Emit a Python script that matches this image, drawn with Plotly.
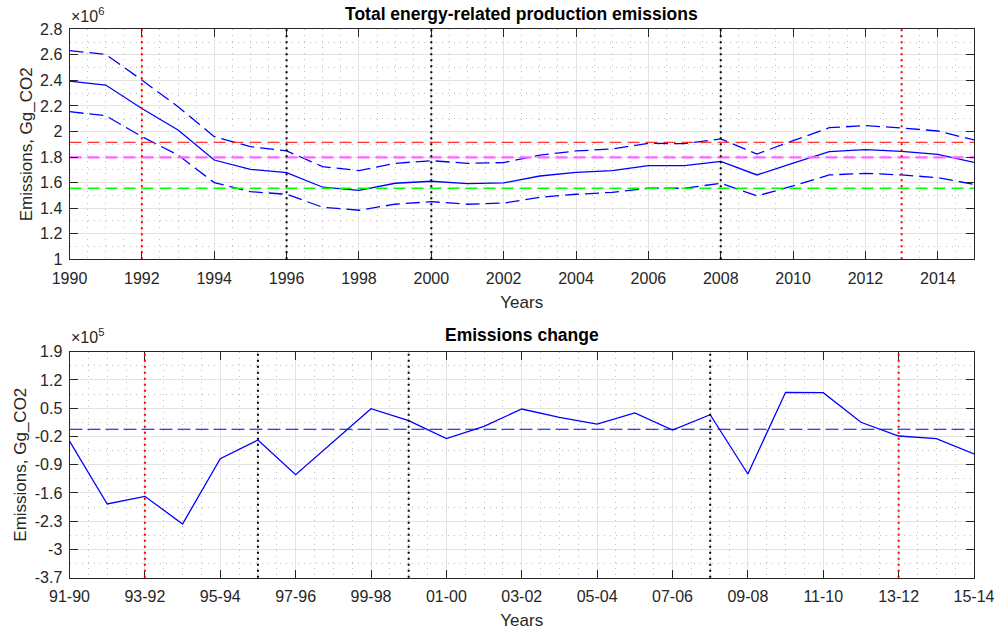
import plotly.graph_objects as go

# ---- data -------------------------------------------------------------
years = list(range(1990, 2016))

emissions = [2395000, 2364000, 2180000, 2012000, 1777000, 1704000, 1678000,
             1564000, 1540000, 1595000, 1611000, 1592000, 1598000, 1652000,
             1681000, 1694000, 1733000, 1733000, 1767000, 1660000, 1752000,
             1842000, 1858000, 1845000, 1822000, 1759000]
emissions_upper = [2633000, 2604000, 2403000, 2194000, 1960000, 1882000, 1848000,
                   1725000, 1694000, 1751000, 1772000, 1751000, 1757000, 1816000,
                   1848000, 1863000, 1908000, 1905000, 1942000, 1824000, 1928000,
                   2030000, 2046000, 2028000, 2004000, 1934000]
emissions_lower = [2155000, 2124000, 1960000, 1816000, 1600000, 1529000, 1509000,
                   1407000, 1384000, 1431000, 1451000, 1431000, 1440000, 1485000,
                   1509000, 1524000, 1556000, 1556000, 1595000, 1496000, 1574000,
                   1660000, 1673000, 1660000, 1639000, 1587000]

ref_red = 1916000
ref_magenta = 1798000
ref_green = 1556000

red_years = [1992, 2013]
black_years = [1996, 2000, 2008]

change_labels = ["91-90", "92-91", "93-92", "94-93", "95-94", "96-95", "97-96",
                 "98-97", "99-98", "00-99", "01-00", "02-01", "03-02", "04-03",
                 "05-04", "06-05", "07-06", "08-07", "09-08", "10-09", "11-10",
                 "12-11", "13-12", "14-13", "15-14"]
change = [-31300, -187400, -168400, -237000, -75100, -28800, -114700, -33000,
          48800, 19100, -25500, 5200, 48000, 27400, 10800, 38100, -4000,
          33900, -113000, 89400, 88400, 15100, -18900, -25500, -63500]
change_mean = -2300

change_red = ["93-92", "13-12"]
change_black = ["96-95", "00-99", "08-07"]

top_yticks = [1.0, 1.2, 1.4, 1.6, 1.8, 2.0, 2.2, 2.4, 2.6, 2.8]
bot_yticks = [-3.7, -3.0, -2.3, -1.6, -0.9, -0.2, 0.5, 1.2, 1.9]

# ---- styling ----------------------------------------------------------
FONT = "Liberation Sans, Arial, Helvetica, sans-serif"
TXT = "#262626"
BLUE = "#0000ff"
BAND_DASH = "14px,6px"
REF_DASH = "12px,6px"
MEAN_DASH = "13px,5px"
DOTS = "2px,4px"

fig = go.Figure()

# top panel: estimate with upper and lower band
fig.add_trace(go.Scatter(x=years, y=emissions_upper, mode="lines",
                         line=dict(color=BLUE, width=1.3, dash=BAND_DASH),
                         xaxis="x", yaxis="y", showlegend=False))
fig.add_trace(go.Scatter(x=years, y=emissions, mode="lines",
                         line=dict(color=BLUE, width=1.3),
                         xaxis="x", yaxis="y", showlegend=False))
fig.add_trace(go.Scatter(x=years, y=emissions_lower, mode="lines",
                         line=dict(color=BLUE, width=1.3, dash=BAND_DASH),
                         xaxis="x", yaxis="y", showlegend=False))

for val, col, w in [(ref_red, "#ff0000", 1.2), (ref_magenta, "#ff66ff", 2.4),
                    (ref_green, "#00ff00", 1.4)]:
    fig.add_trace(go.Scatter(x=[years[0], years[-1]], y=[val, val], mode="lines",
                             line=dict(color=col, width=w, dash=REF_DASH),
                             xaxis="x", yaxis="y", showlegend=False))

# bottom panel: year-on-year change and its mean
idx = list(range(len(change_labels)))
fig.add_trace(go.Scatter(x=[idx[0], idx[-1]], y=[change_mean, change_mean], mode="lines",
                         line=dict(color=BLUE, width=1.1, dash=MEAN_DASH),
                         xaxis="x2", yaxis="y2", showlegend=False))
fig.add_trace(go.Scatter(x=idx, y=change, mode="lines",
                         line=dict(color=BLUE, width=1.3),
                         xaxis="x2", yaxis="y2", showlegend=False))

# vertical dotted markers
shapes = []
for yr in red_years:
    shapes.append(dict(type="line", xref="x", yref="y domain", x0=yr, x1=yr, y0=0, y1=1,
                       line=dict(color="#ff0000", width=2, dash=DOTS), layer="above"))
for yr in black_years:
    shapes.append(dict(type="line", xref="x", yref="y domain", x0=yr, x1=yr, y0=0, y1=1,
                       line=dict(color="#000000", width=2, dash=DOTS), layer="above"))
for lab in change_red:
    i = change_labels.index(lab)
    shapes.append(dict(type="line", xref="x2", yref="y2 domain", x0=i, x1=i, y0=0, y1=1,
                       line=dict(color="#ff0000", width=2, dash=DOTS), layer="above"))
for lab in change_black:
    i = change_labels.index(lab)
    shapes.append(dict(type="line", xref="x2", yref="y2 domain", x0=i, x1=i, y0=0, y1=1,
                       line=dict(color="#000000", width=2, dash=DOTS), layer="above"))

common_axis = dict(
    showline=True, linecolor=TXT, linewidth=1, mirror="allticks",
    ticks="inside", ticklen=8, tickcolor=TXT, tickwidth=1,
    showgrid=True, gridcolor="#e3e3e3", gridwidth=1,
    zeroline=False, automargin=False, ticklabeloverflow="allow",
    tickfont=dict(family=FONT, size=16, color=TXT),
)
MINOR = dict(showgrid=True, gridcolor="#bdbdbd", griddash="1px,5px", gridwidth=1, ticks="")
XTITLE = dict(text="Years", font=dict(family=FONT, size=17, color=TXT), standoff=10)
YTITLE = dict(text="Emissions, Gg_CO2", font=dict(family=FONT, size=17, color=TXT), standoff=3)

XD = [69.5 / 994, 974 / 994]


def fmt(v):
    return ("%.1f" % v).rstrip("0").rstrip(".")


fig.update_layout(
    width=994, height=630,
    margin=dict(l=0, r=0, t=0, b=0),
    paper_bgcolor="white", plot_bgcolor="white",
    font=dict(family=FONT, color=TXT),
    shapes=shapes,
    xaxis=dict(common_axis, domain=XD, anchor="y", range=[1990, 2015],
               tickvals=list(range(1990, 2016, 2)),
               ticktext=[str(y) for y in range(1990, 2016, 2)],
               ticklabelstandoff=4,
               minor=dict(MINOR, dtick=0.5, tick0=1990),
               title=XTITLE),
    yaxis=dict(common_axis, domain=[1 - 259.3 / 630, 1 - 29.3 / 630], anchor="x",
               range=[1.0e6, 2.8e6],
               tickvals=[v * 1e6 for v in top_yticks],
               ticktext=[fmt(v) for v in top_yticks],
               ticklabelstandoff=3,
               minor=dict(MINOR, dtick=1e5, tick0=0),
               title=YTITLE),
    xaxis2=dict(common_axis, domain=XD, anchor="y2", range=[0, len(change_labels) - 1],
                tickvals=idx[::2], ticktext=change_labels[::2],
                ticklabelstandoff=4,
                minor=dict(MINOR, dtick=0.5, tick0=0),
                title=XTITLE),
    yaxis2=dict(common_axis, domain=[1 - 577.7 / 630, 1 - 351.7 / 630], anchor="x2",
                range=[-3.7e5, 1.9e5],
                tickvals=[v * 1e5 for v in bot_yticks],
                ticktext=[fmt(v) for v in bot_yticks],
                ticklabelstandoff=3,
                minor=dict(MINOR, dtick=0.35e5, tick0=-3.7e5),
                title=YTITLE),
    annotations=[
        dict(text="<b>Total energy-related production emissions</b>", xref="paper", yref="paper",
             x=0.525, y=1 - 14 / 630, showarrow=False, xanchor="center", yanchor="middle",
             font=dict(family=FONT, size=17.5, color="#000000")),
        dict(text="<b>Emissions change</b>", xref="paper", yref="paper",
             x=0.525, y=1 - 335 / 630, showarrow=False, xanchor="center", yanchor="middle",
             font=dict(family=FONT, size=17.5, color="#000000")),
        dict(text="×10<sup>6</sup>", xref="paper", yref="paper",
             x=69 / 994, y=1 - 27 / 630, showarrow=False, xanchor="left", yanchor="bottom",
             font=dict(family=FONT, size=16, color=TXT)),
        dict(text="×10<sup>5</sup>", xref="paper", yref="paper",
             x=69 / 994, y=1 - 348 / 630, showarrow=False, xanchor="left", yanchor="bottom",
             font=dict(family=FONT, size=16, color=TXT)),
    ],
)

fig.write_html("out.html")
